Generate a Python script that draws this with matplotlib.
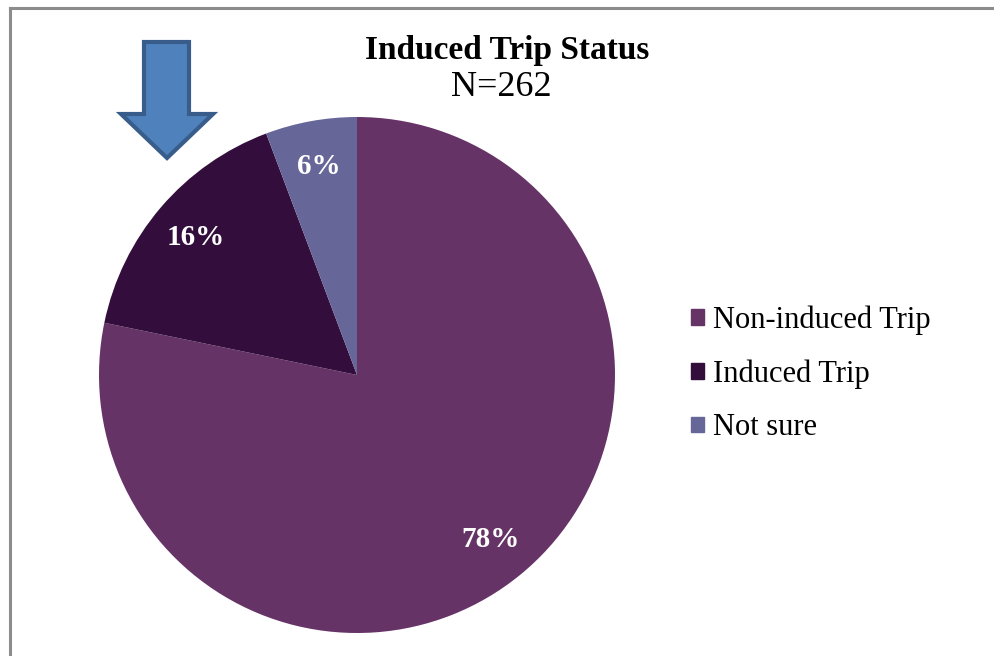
import matplotlib.pyplot as plt
from matplotlib.patches import Polygon, Rectangle
from matplotlib.lines import Line2D

# Induced trip status survey
categories = ['Non-induced Trip', 'Induced Trip', 'Not sure']
counts = [205, 42, 15]
n_total = 262
colors = ['#663366', '#330e3d', '#666699']

plt.rcParams['font.family'] = ['Liberation Serif', 'DejaVu Serif']

fig = plt.figure(figsize=(9.94, 6.56), dpi=100)
ax = fig.add_axes([0, 0, 1, 1])

wedges, texts, autotexts = ax.pie(
    counts, colors=colors, startangle=90, counterclock=False,
    center=(357, 281), radius=258, frame=True,
    autopct=lambda p: '%.0f%%' % p, pctdistance=0.82,
    wedgeprops={'linewidth': 0},
    textprops={'color': 'white', 'fontsize': 21, 'fontweight': 'bold'})
ax.set_xlim(0, 994)
ax.set_ylim(0, 656)
ax.set_aspect('auto')
ax.axis('off')

# outer border (only top and left visible)
ax.add_line(Line2D([10, 10], [0, 648], color='#8c8c8c', lw=2.2))
ax.add_line(Line2D([10, 994], [648, 648], color='#8c8c8c', lw=2.2))

ax.text(507, 605, 'Induced Trip Status', ha='center', va='center',
        fontsize=24, fontweight='bold')
ax.text(501, 569, 'N=%d' % n_total, ha='center', va='center', fontsize=26)

# blue arrow pointing at the induced slice
arrow = Polygon([(144, 614), (189, 614), (189, 542), (213, 542), (167, 498),
                 (121, 542), (144, 542)], closed=True,
                facecolor='#4f81bd', edgecolor='#385d8a', lw=3)
ax.add_patch(arrow)

handles = [Rectangle((0, 0), 1, 1, color=c) for c in colors]
ax.legend(handles, categories, loc='center left', bbox_to_anchor=(0.668, 0.43),
          frameon=False, fontsize=22, handlelength=0.4, handleheight=0.4,
          handletextpad=0.3, labelspacing=0.8)

fig.savefig('out.png', dpi=100)
